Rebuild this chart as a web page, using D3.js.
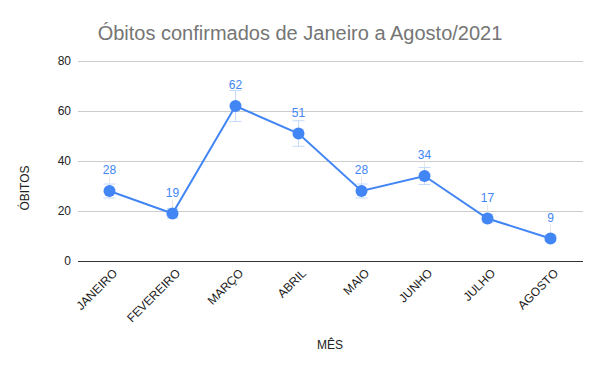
<!DOCTYPE html>
<html>
<head>
<meta charset="utf-8">
<script src="https://cdn.jsdelivr.net/npm/d3@7"></script>
<style>
  body { margin: 0; background: #fff; }
  text { font-family: Arial, "Liberation Sans", sans-serif; }
</style>
</head>
<body>
<svg id="chart"></svg>
<script>
var months = ['JANEIRO', 'FEVEREIRO', 'MARÇO', 'ABRIL', 'MAIO', 'JUNHO', 'JULHO', 'AGOSTO'];
var obitos = [28, 19, 62, 51, 28, 34, 17, 9];
var yTicks = [0, 20, 40, 60, 80];
var errorPct = 0.1;

var width = 600,
    height = 371,
    plotLeft = 78,
    plotRight = 582,
    plotTop = 61,
    plotBottom = 261,
    blue = '#4285f4';

var svg = d3.select('svg#chart')
    .attr('width', width)
    .attr('height', height);

var x = d3.scalePoint()
    .domain(months)
    .range([plotLeft, plotRight])
    .padding(0.5);

var y = d3.scaleLinear()
    .domain([0, 80])
    .range([plotBottom, plotTop]);

// title
svg.append('text')
    .attr('x', 300)
    .attr('y', 40)
    .attr('text-anchor', 'middle')
    .attr('font-size', 20)
    .attr('fill', '#757575')
    .text('Óbitos confirmados de Janeiro a Agosto/2021');

// grid + y axis labels
var yAxis = svg.append('g')
    .attr('transform', 'translate(' + plotLeft + ',0)')
    .call(d3.axisLeft(y).tickValues(yTicks).tickSize(-(plotRight - plotLeft + 1)).tickPadding(7));
yAxis.select('.domain').remove();
yAxis.selectAll('.tick line')
    .attr('stroke', function(d) { return d === 0 ? '#333' : '#ccc'; });
yAxis.selectAll('.tick text')
    .attr('font-size', 12)
    .attr('fill', '#222')
    .style('font-family', 'Arial, "Liberation Sans", sans-serif');

// x axis labels
var xAxis = svg.append('g')
    .attr('transform', 'translate(0,' + plotBottom + ')')
    .call(d3.axisBottom(x).tickSize(0));
xAxis.select('.domain').remove();
xAxis.selectAll('.tick text')
    .attr('font-size', 12)
    .attr('fill', '#222')
    .style('font-family', 'Arial, "Liberation Sans", sans-serif')
    .attr('text-anchor', 'end')
    .attr('dy', null)
    .attr('y', 0)
    .attr('transform', 'translate(8,13) rotate(-45)');

// axis titles
svg.append('text')
    .attr('x', 330)
    .attr('y', 349)
    .attr('text-anchor', 'middle')
    .attr('font-size', 12)
    .attr('fill', '#222')
    .text('MÊS');

svg.append('text')
    .attr('transform', 'translate(29,188) rotate(-90)')
    .attr('text-anchor', 'middle')
    .attr('font-size', 12)
    .attr('fill', '#222')
    .text('ÓBITOS');

var points = months.map(function(m, i) { return { m: m, v: obitos[i] }; });

// annotation stems
svg.append('g').selectAll('line')
    .data(points)
    .enter().append('line')
    .attr('x1', function(d) { return x(d.m); })
    .attr('x2', function(d) { return x(d.m); })
    .attr('y1', function(d) { return y(d.v) - 14; })
    .attr('y2', function(d) { return y(d.v); })
    .attr('stroke', '#e6e6e6')
    .attr('stroke-width', 1);

// error bars
var err = svg.append('g')
    .attr('stroke', '#c6dafc')
    .attr('stroke-width', 1);
points.forEach(function(d) {
    var cx = x(d.m),
        y0 = y(d.v * (1 - errorPct)),
        y1 = y(d.v * (1 + errorPct));
    err.append('line').attr('x1', cx).attr('x2', cx).attr('y1', y0).attr('y2', y1);
    err.append('line').attr('x1', cx - 6).attr('x2', cx + 6).attr('y1', y0).attr('y2', y0);
    err.append('line').attr('x1', cx - 6).attr('x2', cx + 6).attr('y1', y1).attr('y2', y1);
});

// line
svg.append('path')
    .datum(points)
    .attr('fill', 'none')
    .attr('stroke', blue)
    .attr('stroke-width', 2)
    .attr('d', d3.line()
        .x(function(d) { return x(d.m); })
        .y(function(d) { return y(d.v); }));

// markers
svg.append('g').selectAll('circle')
    .data(points)
    .enter().append('circle')
    .attr('cx', function(d) { return x(d.m); })
    .attr('cy', function(d) { return y(d.v); })
    .attr('r', 6)
    .attr('fill', blue);

// data labels
svg.append('g').selectAll('text')
    .data(points)
    .enter().append('text')
    .attr('x', function(d) { return x(d.m); })
    .attr('y', function(d) { return y(d.v) - 17; })
    .attr('text-anchor', 'middle')
    .attr('font-size', 12)
    .attr('fill', blue)
    .text(function(d) { return d.v; });
</script>
</body>
</html>
